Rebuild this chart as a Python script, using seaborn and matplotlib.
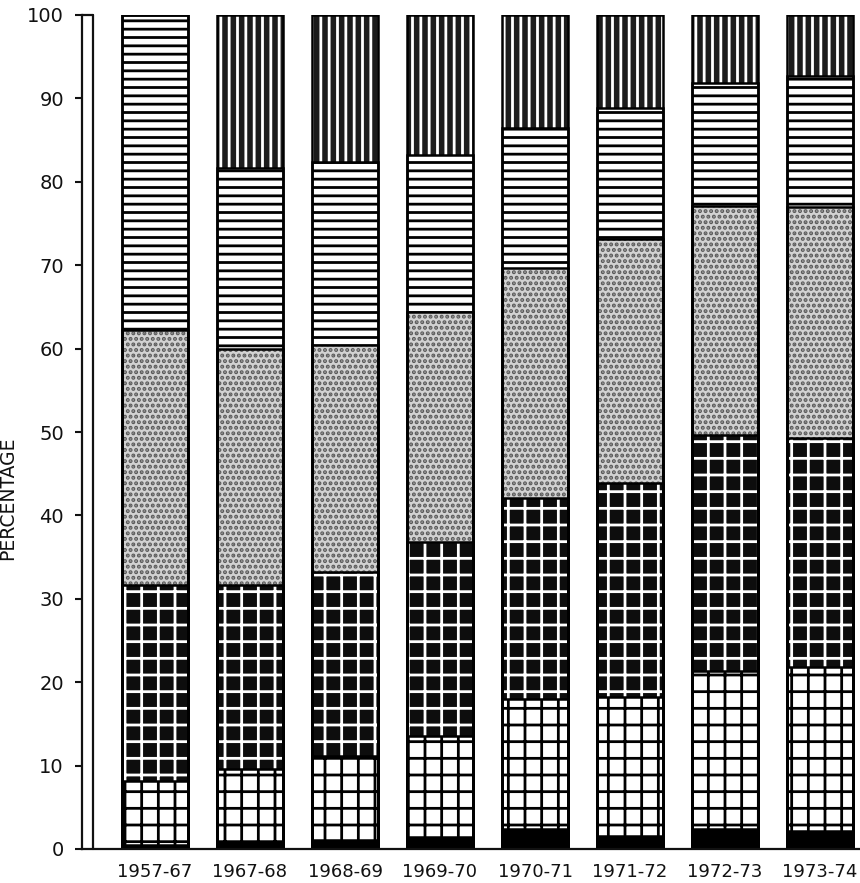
import numpy as np
import pandas as pd
import matplotlib
matplotlib.use("Agg")
import matplotlib.pyplot as plt
import seaborn as sns

# ---------------- data (percent shares) ----------------
years = ["1957-67", "1967-68", "1968-69", "1969-70", "1970-71", "1971-72", "1972-73", "1973-74"]
seg_black = [0.5, 0.8, 1.1, 1.4, 2.4, 1.6, 2.4, 2.2]
seg_white_cobble = [7.7, 8.8, 10.1, 12.1, 15.6, 16.6, 19.0, 19.6]
seg_black_cobble = [23.5, 22.0, 22.0, 23.3, 24.1, 25.7, 28.2, 27.5]
seg_stipple = [30.5, 28.4, 27.2, 27.6, 27.6, 29.3, 27.5, 27.7]
seg_hlines = [37.8, 21.6, 22.0, 18.8, 16.7, 15.6, 14.7, 15.7]
seg_vlines = [0.0, 18.4, 17.6, 16.8, 13.6, 11.2, 8.2, 7.3]
yticks = [0, 10, 20, 30, 40, 50, 60, 70, 80, 90, 100]

segments = [seg_black, seg_white_cobble, seg_black_cobble, seg_stipple, seg_hlines, seg_vlines]
# styles: (face colour, hatch, hatch colour)
styles = [
    ("black", None, "black"),
    ("white", "+", "black"),
    ("#0d0d0d", "+", "white"),
    ("#d2d2d2", "...", "#5a5a5a"),
    ("white", "--", "black"),
    ("#1c1c1c", "||", "white"),
]

sns.set_style("white")
plt.rcParams["font.family"] = ["DejaVu Sans"]
plt.rcParams["hatch.linewidth"] = 2.0

W, H, DPI = 860, 883, 100
fig = plt.figure(figsize=(W / DPI, H / DPI), dpi=DPI)
ax = fig.add_axes([82 / W, (883 - 849) / H, (860 - 82) / W, (849 - 15) / H])

cum = np.cumsum(np.array(segments), axis=0)
bar_w = 0.69
# draw from the top layer down so each lower layer covers the previous
for k in range(len(segments) - 1, -1, -1):
    face, hatch, hcol = styles[k]
    df = pd.DataFrame({"year": years, "top": cum[k]})
    sns.barplot(data=df, x="year", y="top", order=years, color=face, saturation=1,
                hatch=hatch, edgecolor=hcol, linewidth=0, width=bar_w,
                errorbar=None, ax=ax)

# outlines of every segment
for k in range(len(segments)):
    df = pd.DataFrame({"year": years, "top": cum[k]})
    sns.barplot(data=df, x="year", y="top", order=years, fill=False, color="black",
                linewidth=1.8, width=bar_w, errorbar=None, ax=ax)

ax.set_xlim((82 - 155) / 95, (860 - 155) / 95)
ax.set_ylim(0, 100)
ax.set_yticks(yticks)
ax.set_yticklabels([str(t) for t in yticks], fontsize=14, color="#111111")
ax.set_xlabel("")
ax.set_ylabel("PERCENTAGE", fontsize=13.5, color="#111111")
ax.yaxis.set_label_coords(-0.083, 0.42)
ax.tick_params(axis="y", left=True, direction="out", length=5, width=1.5, pad=8,
               colors="#111111")
ax.tick_params(axis="x", bottom=False, length=0, pad=10, labelsize=13, colors="#111111")

for s in ["top", "right"]:
    ax.spines[s].set_visible(False)
for s in ["left", "bottom"]:
    ax.spines[s].set_linewidth(1.6)
    ax.spines[s].set_color("#111111")

# second line of the double vertical scale
tr = ax.get_yaxis_transform()
off = 11 / (860 - 82)
ax.plot([off, off], [0, 100], transform=tr, color="#111111", lw=1.6, clip_on=False)
ax.plot([0, off], [100, 100], transform=tr, color="#111111", lw=1.6, clip_on=False)

fig.savefig("out.png", dpi=DPI, facecolor="white")
